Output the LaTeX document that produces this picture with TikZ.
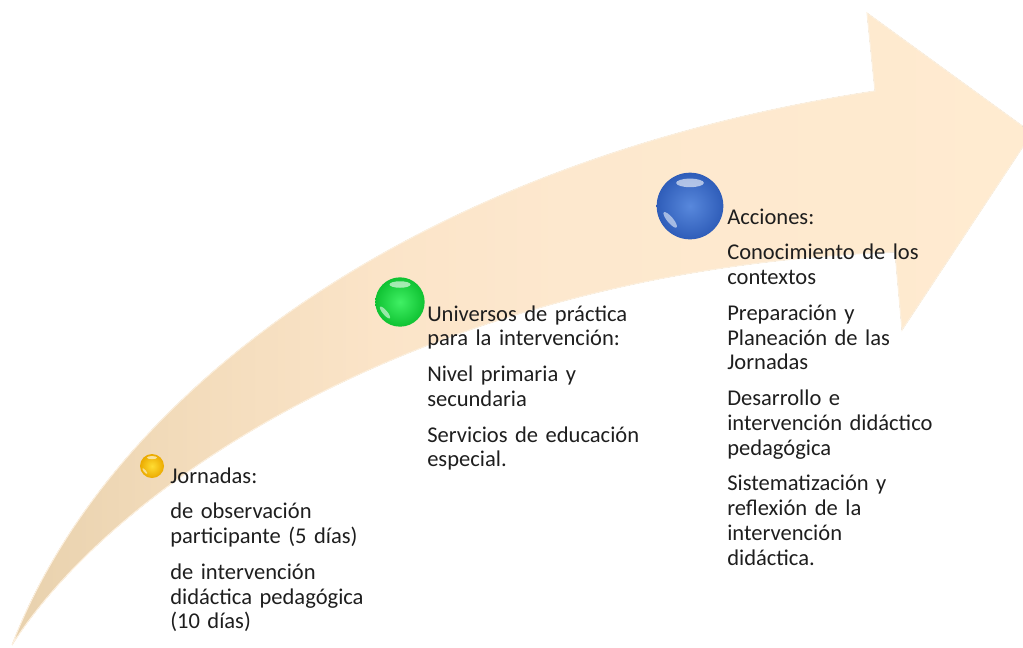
\documentclass[tikz,border=0pt]{standalone}
\usepackage{fontspec}
\setmainfont{Carlito}
\definecolor{tanA}{HTML}{E8D1AD}
\definecolor{tanB}{HTML}{F2DBBA}
\definecolor{peachA}{HTML}{FBE4C8}
\definecolor{peachB}{HTML}{FDE8CE}
\definecolor{peachC}{HTML}{FFEBD0}
\definecolor{edgeC}{HTML}{FDF0DE}
\definecolor{yIn}{HTML}{FFDD33}
\definecolor{yOut}{HTML}{EBAA00}
\definecolor{gIn}{HTML}{40F064}
\definecolor{gOut}{HTML}{0FC232}
\definecolor{bIn}{HTML}{5888DC}
\definecolor{bOut}{HTML}{2F5DB9}
\definecolor{txt}{HTML}{1E1E1E}
\pgfdeclarehorizontalshading{arrowshade}{100bp}{color(0bp)=(tanA); color(25bp)=(tanA); color(33bp)=(tanB); color(43bp)=(peachA); color(52bp)=(peachB); color(75bp)=(peachC); color(100bp)=(peachC)}
\tikzset{
  orb/.style n args={2}{circle, inner sep=0pt, shading=radial, inner color=#1, outer color=#2},
  block/.style={anchor=base west, inner sep=0pt, align=left, text width=230pt, text=txt,
    font=\fontsize{16.9}{18.6}\selectfont}
}
\newcommand{\glints}[2]{%
  \fill[white, opacity=0.6] ([shift={(0,-0.7*#2)}]#1.center) ellipse [x radius=0.42*#2, y radius=0.13*#2];
  \fill[white, opacity=0.55] ([shift={(-0.6*#2,0.42*#2)}]#1.center) ellipse [x radius=0.09*#2, y radius=0.3*#2, rotate=40];
}
\begin{document}
\begin{tikzpicture}[x=0.75pt,y=-0.75pt]
\path[use as bounding box] (0,0) rectangle (1023,647);
% big curved arrow
\fill[shading=arrowshade, draw=edgeC, line width=0.8pt]
  (12,645) .. controls (110,390) and (420,160) .. (875,91)
  -- (867,13) -- (1032,133) -- (902,330) -- (895,252)
  .. controls (420,270) and (110,490) .. (12,645)
  -- cycle;
% spheres
\node[orb={yIn}{yOut}, minimum size=18pt] (s1) at (152,466) {};
\node[orb={gIn}{gOut}, minimum size=37pt] (s2) at (400,302) {};
\node[orb={bIn}{bOut}, minimum size=50pt] (s3) at (690,206) {};
\glints{s1}{12}
\glints{s2}{25}
\glints{s3}{33}
% texts
\node[block] (t1) at (170,483) {Jornadas:\\[8.2pt]
de observación\\participante (5 días)\\[8.2pt]
de intervención\\didáctica pedagógica\\(10 días)};
\node[block] (t2) at (427,321) {Universos de práctica\\para la intervención:\\[8.2pt]
Nivel primaria y\\secundaria\\[8.2pt]
Servicios de educación\\especial.};
\node[block] (t3) at (727,224) {Acciones:\\[8.2pt]
Conocimiento de los\\contextos\\[8.2pt]
Preparación y\\Planeación de las\\Jornadas\\[8.2pt]
Desarrollo e\\intervención didáctico\\pedagógica\\[8.2pt]
Sistematización y\\reflexión de la\\intervención\\didáctica.};
\end{tikzpicture}
\end{document}
